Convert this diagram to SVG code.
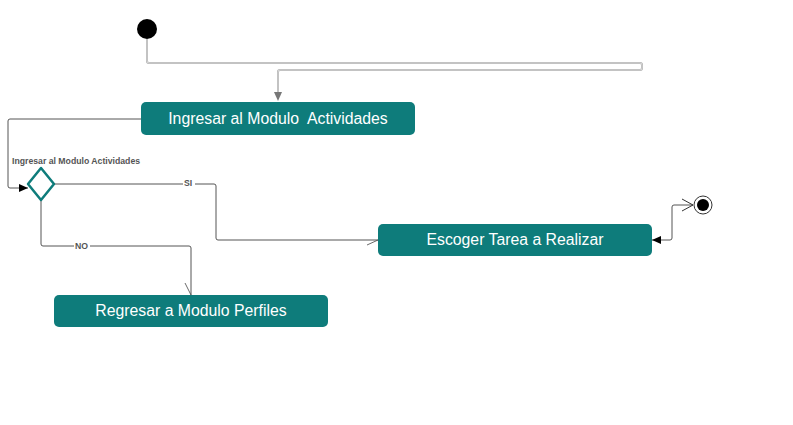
<svg xmlns="http://www.w3.org/2000/svg" width="793" height="425" viewBox="0 0 793 425">
<defs>
<style>
.node{fill:#0e7c7b;}
.lbl{fill:#ffffff;font-family:"Liberation Sans",Arial,sans-serif;font-size:15.8px;text-anchor:middle;dominant-baseline:central;}
.edge{fill:none;stroke:#555;stroke-width:1;}
.tip{fill:none;stroke:#444;stroke-width:0.8;}
.small{fill:#555;font-family:"Liberation Sans",Arial,sans-serif;font-size:8.7px;font-weight:bold;}
</style>
<marker id="filled" markerWidth="10" markerHeight="8" refX="9" refY="4" orient="auto" markerUnits="userSpaceOnUse">
<path d="M0,0 L9,4 L0,8 Z" fill="#000"/>
</marker>
</defs>
<rect width="793" height="425" fill="#ffffff"/>
<g id="connectors">
<path d="M147,39 V61 Q147,63 149,63 H640 Q642,63 642,65 V68 Q642,70 640,70 H280 Q278,70 278,72 V92" fill="none" stroke="#aaa" stroke-width="2"/>
<path d="M147,39 V61 Q147,63 149,63 H640 Q642,63 642,65 V68 Q642,70 640,70 H280 Q278,70 278,72 V92" fill="none" stroke="#f4f4f4" stroke-width="0.7"/>
<path d="M278,92 L274,92 L278,101 L282,92 Z" fill="#777"/>
<path class="edge" d="M141,119 H10 Q8,119 8,121 V186 Q8,188 10,188 H28" marker-end="url(#filled)"/>
<path class="edge" d="M54,184 H214 Q216,184 216,186 V238 Q216,240 218,240 H378"/>
<path class="tip" d="M367,245 L378,240"/>
<path class="edge" d="M41,200 V244 Q41,246 43,246 H189 Q191,246 191,248 V295"/>
<path class="tip" d="M185,283 L191,295"/>
<path class="edge" d="M693,205 H674 Q672,205 672,207 V238 Q672,240 670,240 H652" marker-end="url(#filled)"/>
<path d="M682,199 L693,205 L682,211" fill="none" stroke="#333" stroke-width="1"/>
<rect x="183" y="178" width="12" height="9" fill="#fff"/>
<text class="small" x="184" y="185.5">SI</text>
<rect x="74" y="241" width="16" height="9" fill="#fff"/>
<text class="small" x="75" y="249">NO</text>
</g>
<g id="start"><circle cx="147" cy="29" r="10" fill="#000"/></g>
<g id="n1"><rect class="node" x="141" y="102" width="274" height="33" rx="5"/><text class="lbl" x="278" y="118" xml:space="preserve">Ingresar al Modulo  Actividades</text></g>
<g id="decision"><path d="M41,168 L54,184 L41,200 L28,184 Z" fill="#fff" stroke="#0e7c7b" stroke-width="2.5" stroke-linejoin="round"/><text class="small" x="12" y="164">Ingresar al Modulo Actividades</text></g>
<g id="n2"><rect class="node" x="378" y="224" width="274" height="32" rx="5"/><text class="lbl" x="515" y="239">Escoger Tarea a Realizar</text></g>
<g id="n3"><rect class="node" x="54" y="295" width="274" height="32" rx="5"/><text class="lbl" x="191" y="310">Regresar a Modulo Perfiles</text></g>
<g id="end"><circle cx="703" cy="205" r="9" fill="#fff" stroke="#333" stroke-width="1"/><circle cx="703" cy="205" r="6" fill="#000"/></g>
</svg>
